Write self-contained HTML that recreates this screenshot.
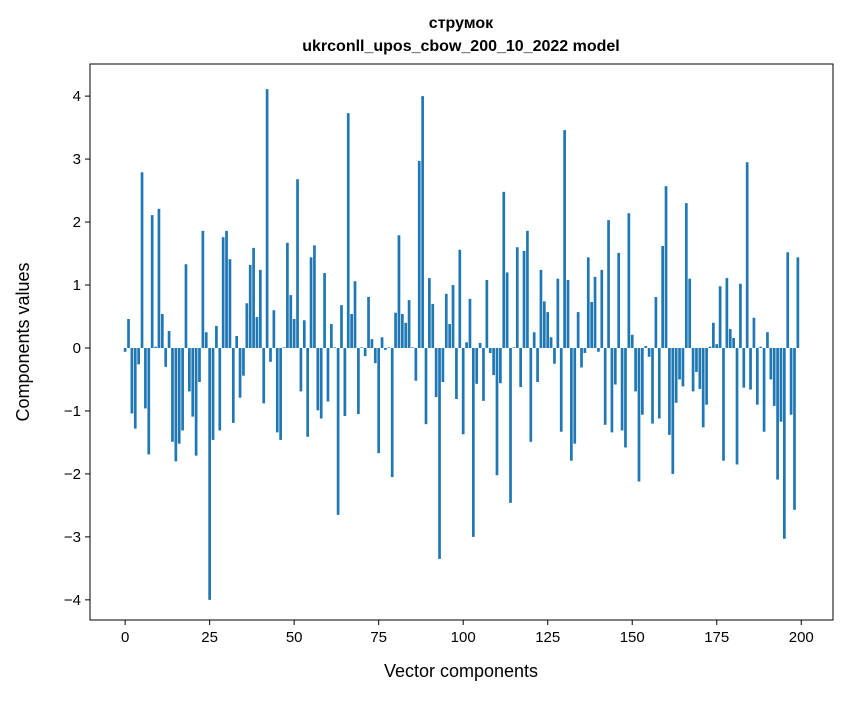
<!DOCTYPE html>
<html><head><meta charset="utf-8"><style>
body{margin:0;background:#fff;}
svg text{font-family:"Liberation Sans","DejaVu Sans",sans-serif;fill:#000;}
</style></head><body>
<svg id="chart" width="847" height="696" xmlns="http://www.w3.org/2000/svg">
<rect width="847" height="696" fill="#fff"/>
<text x="461" y="28" text-anchor="middle" font-size="16" font-weight="bold">струмок</text>
<text x="461" y="51" text-anchor="middle" font-size="16" font-weight="bold">ukrconll_upos_cbow_200_10_2022 model</text>
<g id="bars"></g>
<g id="axes"></g>
<rect x="90" y="64" width="743" height="556" fill="none" stroke="#000" stroke-width="1"/>
<text x="461" y="677" text-anchor="middle" font-size="18">Vector components</text>
<text transform="translate(29,342) rotate(-90)" text-anchor="middle" font-size="18">Components values</text>
</svg>
<script>
const values = [-0.06,0.46,-1.04,-1.28,-0.26,2.79,-0.96,-1.69,2.11,0.02,2.21,0.54,-0.30,0.27,-1.49,-1.80,-1.52,-1.31,1.33,-0.69,-1.09,-1.71,-0.54,1.86,0.25,
-4.0,-1.46,0.35,-1.31,1.76,1.86,1.41,-1.19,0.19,-0.79,-0.44,0.71,1.32,1.59,0.49,1.24,-0.88,4.11,-0.22,0.60,-1.34,-1.46,0.01,1.67,0.84,
0.46,2.68,-0.69,0.44,-1.41,1.44,1.63,-0.99,-1.12,1.19,-0.85,0.38,0.01,-2.65,0.68,-1.08,3.73,0.54,1.06,-1.05,0.01,-0.13,0.81,0.14,-0.24,
-1.67,0.17,-0.03,0.01,-2.05,0.56,1.79,0.54,0.40,0.76,0.01,-0.52,2.97,4.00,-1.21,1.11,0.70,-0.78,-3.35,-0.54,0.86,0.38,1.00,-0.81,1.56,
-1.37,0.09,0.78,-3.00,-0.57,0.08,-0.84,1.08,-0.08,-0.43,-2.02,-0.56,2.48,1.20,-2.46,0.01,1.60,-0.62,1.54,1.86,-1.49,0.25,-0.54,1.24,0.74,
0.57,0.17,-0.25,1.10,-1.33,3.46,1.08,-1.79,-1.52,0.57,-0.31,-0.08,1.44,0.73,1.13,-0.06,1.24,-1.22,2.03,-1.34,-0.58,1.51,-1.31,-1.58,2.14,
0.21,-0.69,-2.12,-1.06,0.03,-0.14,-1.20,0.81,-1.12,1.62,2.57,-1.38,-2.00,-0.87,-0.50,-0.61,2.30,1.10,-0.69,-0.38,-0.65,-1.26,-0.90,0.02,0.40,
0.06,0.98,-1.79,1.11,0.30,0.16,-1.85,1.02,-0.63,2.95,-0.66,0.48,-0.90,0.02,-1.33,0.25,-0.50,-0.92,-2.09,-1.17,-3.03,1.52,-1.06,-2.57,1.44];
const xTicks = [0,25,50,75,100,125,150,175,200];
const yTicks = [-4,-3,-2,-1,0,1,2,3,4];
const yTickLabels = ["\u22124","\u22123","\u22122","\u22121","0","1","2","3","4"];

const NS="http://www.w3.org/2000/svg";
const L=90,R=833,T=64,B=620;
const xMin=-10.39,xMax=209.39,yMin=-4.32,yMax=4.51;
function xs(v){return L+(v-xMin)/(xMax-xMin)*(R-L);}
function ys(v){return B-(v-yMin)/(yMax-yMin)*(B-T);}
const bars=document.getElementById('bars');
const bw=xs(0.8)-xs(0);
values.forEach((v,i)=>{
  const r=document.createElementNS(NS,'rect');
  const y0=ys(0),y1=ys(v);
  r.setAttribute('x',xs(i-0.4));
  r.setAttribute('y',Math.min(y0,y1));
  r.setAttribute('width',bw);
  r.setAttribute('height',Math.abs(y1-y0));
  r.setAttribute('fill','#1f77b4');
  
  
  bars.appendChild(r);
});
const axes=document.getElementById('axes');
xTicks.forEach(t=>{
  const x=xs(t);
  const l=document.createElementNS(NS,'line');
  l.setAttribute('x1',x);l.setAttribute('x2',x);l.setAttribute('y1',B);l.setAttribute('y2',B+5);
  l.setAttribute('stroke','#000');
  
  
  axes.appendChild(l);
  const tx=document.createElementNS(NS,'text');
  tx.setAttribute('x',x);tx.setAttribute('y',B+22);tx.setAttribute('text-anchor','middle');tx.setAttribute('font-size','15');
  tx.textContent=t;
  
  
  axes.appendChild(tx);
});
yTicks.forEach((t,i)=>{
  const y=ys(t);
  const l=document.createElementNS(NS,'line');
  l.setAttribute('x1',L-5);l.setAttribute('x2',L);l.setAttribute('y1',y);l.setAttribute('y2',y);
  l.setAttribute('stroke','#000');
  
  
  axes.appendChild(l);
  const tx=document.createElementNS(NS,'text');
  tx.setAttribute('x',L-9);tx.setAttribute('y',y+5);tx.setAttribute('text-anchor','end');tx.setAttribute('font-size','15');
  tx.textContent=yTickLabels[i];
  
  
  axes.appendChild(tx);
});
</script>
</body></html>
